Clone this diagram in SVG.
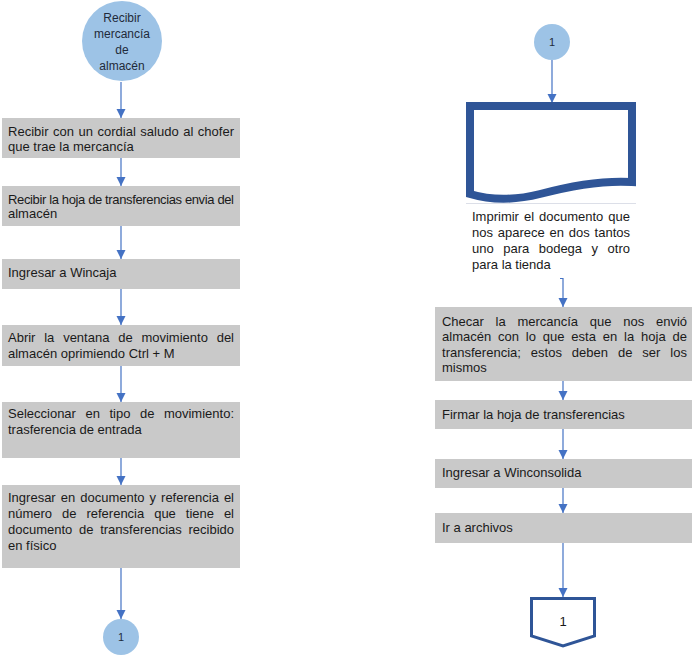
<svg xmlns="http://www.w3.org/2000/svg" width="698" height="656" viewBox="0 0 698 656">
<style>
.box{fill:#c9c9c9}
.t{font-family:"Liberation Sans",Arial,sans-serif;font-size:13px;fill:#1a1a1a}
.ct{font-family:"Liberation Sans",Arial,sans-serif;font-size:12px;fill:#1f2a3a;text-anchor:middle}
.circ{fill:#9dc3e6}
.edge{stroke:#4472c4;stroke-width:1.2;fill:none;marker-end:url(#ah)}
.thick{fill:#ffffff;stroke:#2f5597;stroke-width:8;stroke-linejoin:miter}
</style>
<defs>
<marker id="ah" markerUnits="userSpaceOnUse" markerWidth="10" markerHeight="10" refX="9" refY="4.5" orient="auto">
<path d="M0,0 L9,4.5 L0,9 Z" fill="#4472c4"/>
</marker>
</defs>
<rect width="698" height="656" fill="#ffffff"/>

<g id="connectors">
<path class="edge" d="M121,82 V118"/>
<path class="edge" d="M121,158 V186"/>
<path class="edge" d="M121,226 V259"/>
<path class="edge" d="M121,289 V325"/>
<path class="edge" d="M121,366 V402"/>
<path class="edge" d="M121,458 V485"/>
<path class="edge" d="M121,568 V619"/>
<path class="edge" d="M552,60 V103"/>
<path class="edge" d="M560,278.5 H563 V307"/>
<path class="edge" d="M563,381 V400"/>
<path class="edge" d="M563,429 V459"/>
<path class="edge" d="M563,488 V513"/>
<path class="edge" d="M563,543 V597"/>
</g>

<g id="start">
<circle class="circ" cx="122" cy="41" r="40"/>
<text class="ct" x="122" y="22">Recibir</text>
<text class="ct" x="122" y="38">mercancía</text>
<text class="ct" x="122" y="54">de</text>
<text class="ct" x="122" y="70">almacén</text>
</g>

<g id="n1">
<rect class="box" x="2" y="118" width="238" height="40"/>
<text class="t" x="8" y="136" word-spacing="0.9" textLength="226" lengthAdjust="spacing">Recibir con un cordial saludo al chofer</text>
<text class="t" x="8" y="151">que trae la mercancía</text>
</g>

<g id="n2">
<rect class="box" x="2" y="186" width="238" height="40"/>
<text class="t" x="8" y="204" textLength="226" lengthAdjust="spacing">Recibir la hoja de transferencias envia del</text>
<text class="t" x="8" y="218">almacén</text>
</g>

<g id="n3">
<rect class="box" x="2" y="259" width="238" height="30"/>
<text class="t" x="8" y="277">Ingresar a Wincaja</text>
</g>

<g id="n4">
<rect class="box" x="2" y="325" width="238" height="41"/>
<text class="t" x="8" y="342" word-spacing="5.2" textLength="226" lengthAdjust="spacing">Abrir la ventana de movimiento del</text>
<text class="t" x="8" y="358">almacén oprimiendo Ctrl + M</text>
</g>

<g id="n5">
<rect class="box" x="2" y="402" width="238" height="56"/>
<text class="t" x="8" y="418" word-spacing="5.9" textLength="226" lengthAdjust="spacing">Seleccionar en tipo de movimiento:</text>
<text class="t" x="8" y="434">trasferencia de entrada</text>
</g>

<g id="n6">
<rect class="box" x="2" y="485" width="238" height="83"/>
<text class="t" x="8" y="502" word-spacing="1.4" textLength="226" lengthAdjust="spacing">Ingresar en documento y referencia el</text>
<text class="t" x="8" y="518" word-spacing="6.3" textLength="226" lengthAdjust="spacing">número de referencia que tiene el</text>
<text class="t" x="8" y="534" word-spacing="3.1" textLength="226" lengthAdjust="spacing">documento de transferencias recibido</text>
<text class="t" x="8" y="550">en físico</text>
</g>

<g id="end-left">
<circle class="circ" cx="121" cy="637" r="18"/>
<text class="ct" x="121" y="641" style="font-size:11px">1</text>
</g>

<g id="start-right">
<circle class="circ" cx="552" cy="42" r="18"/>
<text class="ct" x="552" y="46" style="font-size:11px">1</text>
</g>

<g id="document">
<line x1="466" y1="203.5" x2="636" y2="203.5" stroke="#dcdfe8" stroke-width="1"/>
<path class="thick" d="M470,106 H632 V182 C600,180 570,186 540,194 C512,201 490,200 470,194 Z"/>
<text class="t" x="472" y="221" word-spacing="1.4" textLength="158" lengthAdjust="spacing">Imprimir el documento que</text>
<text class="t" x="472" y="237" word-spacing="1.2" textLength="158" lengthAdjust="spacing">nos aparece en dos tantos</text>
<text class="t" x="472" y="253" word-spacing="5.9" textLength="158" lengthAdjust="spacing">uno para bodega y otro</text>
<text class="t" x="472" y="269">para la tienda</text>
</g>

<g id="n7">
<rect class="box" x="435" y="307" width="257" height="74"/>
<text class="t" x="442" y="326" word-spacing="8.2" textLength="245" lengthAdjust="spacing">Checar la mercancía que nos envió</text>
<text class="t" x="442" y="341" word-spacing="3.2" textLength="245" lengthAdjust="spacing">almacén con lo que esta en la hoja de</text>
<text class="t" x="442" y="357" word-spacing="6.3" textLength="245" lengthAdjust="spacing">transferencia; estos deben de ser los</text>
<text class="t" x="442" y="372">mismos</text>
</g>

<g id="n8">
<rect class="box" x="435" y="400" width="257" height="29"/>
<text class="t" x="442" y="419">Firmar la hoja de transferencias</text>
</g>

<g id="n9">
<rect class="box" x="435" y="459" width="257" height="29"/>
<text class="t" x="442" y="477">Ingresar a Winconsolida</text>
</g>

<g id="n10">
<rect class="box" x="435" y="513" width="257" height="30"/>
<text class="t" x="442" y="532">Ir a archivos</text>
</g>

<g id="offpage">
<path d="M531.5,598.5 H594.5 V636 L563,646 L531.5,636 Z" fill="#ffffff" stroke="#2f5597" stroke-width="3"/>
<text class="t" x="563" y="626" text-anchor="middle">1</text>
</g>
</svg>
